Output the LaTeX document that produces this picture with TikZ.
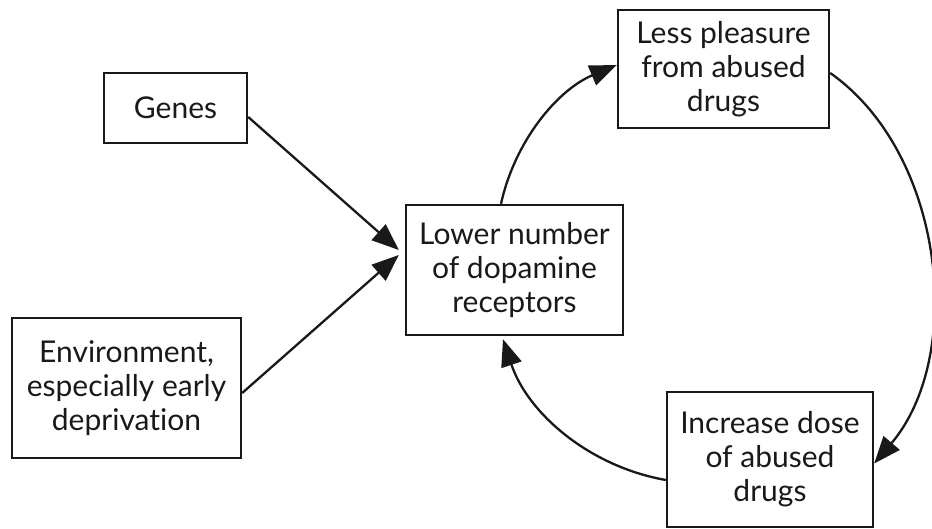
\documentclass[tikz,border=0pt]{standalone}
\usepackage{fontspec}
\setmainfont{Lato}[Ligatures=NoCommon]
\usetikzlibrary{arrows.meta}
\begin{document}
\begin{tikzpicture}[x=1pt,y=-1pt,
  box/.style={draw=black!90,line width=2.4pt,align=center,inner sep=0pt,
    font=\fontsize{30}{34}\selectfont,text=black!90},
  arr/.style={line width=2.3pt,draw=black!90,-{Triangle[length=27pt,width=21pt]}}]
\useasboundingbox (0,0) rectangle (932,529);
\node[box,minimum width=143pt,minimum height=70pt] (genes) at (175.5,108) {Genes};
\node[box,minimum width=229pt,minimum height=140pt] (env) at (126.5,388) {Environment,\\especially early\\deprivation};
\node[box,minimum width=217pt,minimum height=130pt] (lower) at (514.5,270) {Lower number\\of dopamine\\receptors};
\node[box,minimum width=211pt,minimum height=118pt] (less) at (723.5,69) {Less pleasure\\from abused\\drugs};
\node[box,minimum width=206pt,minimum height=135pt] (incr) at (770,459.5) {Increase dose\\of abused\\drugs};
\coordinate (t1) at ([xshift=-6pt,yshift=20pt]lower.west);
\coordinate (t2) at ([xshift=-6pt,yshift=15pt]lower.west);
\draw[arr] ([yshift=-9pt]genes.east) -- (t1);
\draw[arr] ([yshift=-5pt]env.east) -- (t2);
\draw[arr] ([xshift=-13.5pt]lower.north) .. controls +(13.9,-62.9) and +(-59.4,25) .. ([yshift=4pt]less.west);
\draw[arr] ([yshift=-4pt]less.east) .. controls +(115,81) and +(91,-107) .. ([yshift=-4pt]incr.east);
\draw[arr] ([yshift=-20.5pt]incr.west) .. controls +(-76.7,-13.5) and +(24.6,73.9) .. ([xshift=-11.5pt,yshift=-3pt]lower.south);
\end{tikzpicture}
\end{document}
